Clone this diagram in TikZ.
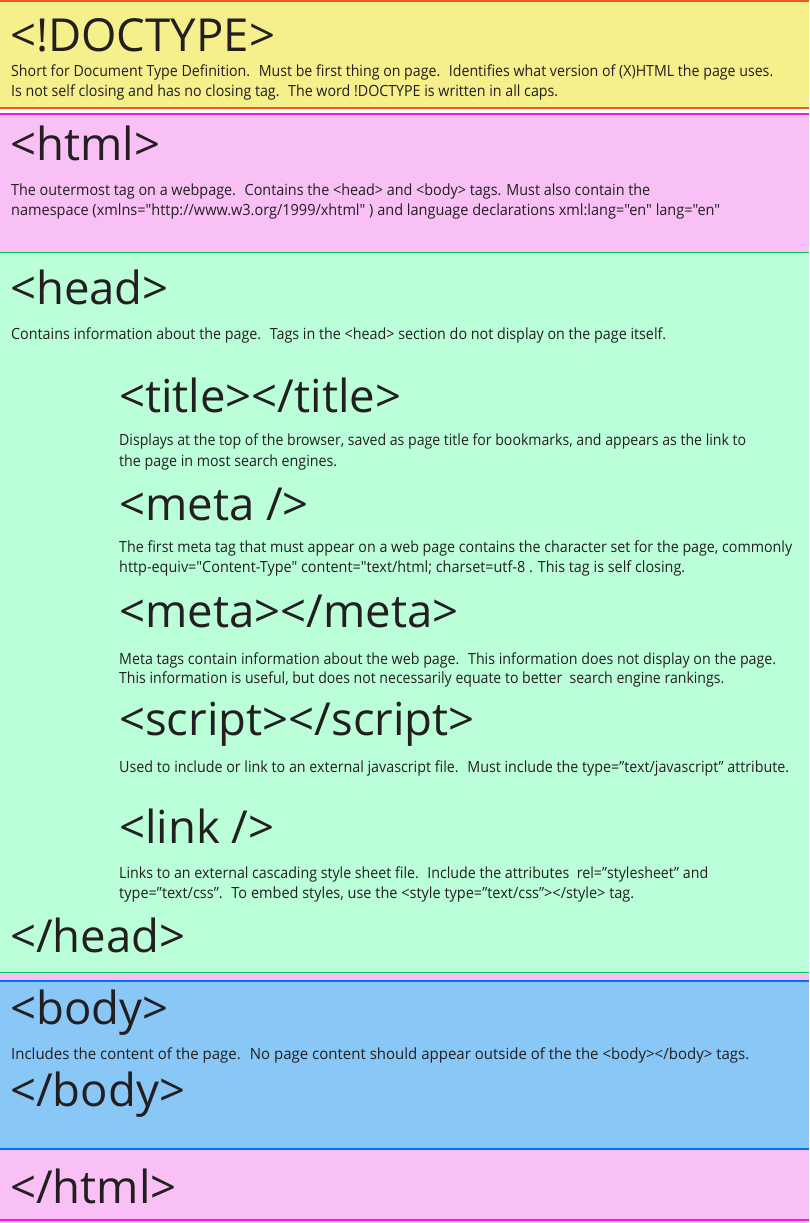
\documentclass[tikz,border=0pt]{standalone}
\usepackage{fontspec}
\usepackage{graphicx}
\newfontfamily\tagfont{Open Sans}
\newfontfamily\descfont[FakeStretch=0.93]{Open Sans}
% set a description line to a given width, keeping its height
\newcommand\fitline[2]{\resizebox{#1pt}{\height}{#2}}
\definecolor{yellowbg}{RGB}{245,239,140}
\definecolor{orangeline}{RGB}{241,90,36}
\definecolor{pinkbg}{RGB}{249,192,245}
\definecolor{magline}{RGB}{232,30,230}
\definecolor{greenbg}{RGB}{187,255,217}
\definecolor{greenline}{RGB}{0,200,80}
\definecolor{bluebg}{RGB}{137,199,247}
\definecolor{blueline}{RGB}{0,112,240}
\definecolor{ink}{RGB}{35,31,32}
\begin{document}
\begin{tikzpicture}[x=1pt,y=-1pt,
  heading/.style={anchor=base west,inner sep=0pt,text=ink,
    font=\tagfont\fontsize{45.5}{50}\selectfont},
  desc/.style={anchor=base west,inner sep=0pt,text=ink,
    font=\descfont\fontsize{15.4}{19}\selectfont}]
\useasboundingbox (0,0) rectangle (809,1223);
% section bands
\fill[yellowbg] (0,0) rectangle (809,108.5);
\fill[pinkbg] (0,112.5) rectangle (809,252.5);
\fill[greenbg] (0,252.5) rectangle (809,973);
\fill[pinkbg] (0,973) rectangle (809,980);
\fill[bluebg] (0,980) rectangle (809,1149);
\fill[pinkbg] (0,1149) rectangle (809,1223);
% band edges
\draw[orangeline,line width=1.8pt] (0,0.9) -- (809,0.9);
\draw[orangeline,line width=1.8pt] (0,108) -- (809,108);
\draw[magline,line width=1.8pt] (0,114) -- (809,114);
\draw[greenline,line width=1.8pt] (0,252.5) -- (809,252.5);
\draw[greenline,line width=1.9pt] (0,972.5) -- (200,972.5);
\draw[greenline,line width=1.5pt] (200,972.7) -- (809,972.7);
\draw[blueline,line width=1.8pt] (0,981) -- (809,981);
\draw[blueline,line width=1.8pt] (0,1149) -- (809,1149);
\draw[magline,line width=1.8pt] (0,1220) -- (809,1220);

% <!DOCTYPE>
\node[heading] (doctype) at (10,52) {<!DOCTYPE>};
\node[desc] (doctype1) at (11,77) {\fitline{762}{Short for Document Type Definition.~ Must be first thing on page.~ Identifies what version of (X)HTML the page uses.}};
\node[desc] (doctype2) at (11,96.5) {\fitline{547}{Is not self closing and has no closing tag.~ The word !DOCTYPE is written in all caps.}};

% <html>
\node[heading] (html) at (10,160) {<html>};
\node[desc] (html1) at (11,195) {\fitline{639}{The outermost tag on a webpage.~ Contains the <head> and <body> tags. Must also contain the}};
\node[desc] (html2) at (11,215) {\fitline{709}{namespace (xmlns="http://www.w3.org/1999/xhtml" ) and language declarations xml:lang="en" lang="en"}};

% <head>
\node[heading] (head) at (10,304) {<head>};
\node[desc] (head1) at (11,339) {\fitline{655}{Contains information about the page.~ Tags in the <head> section do not display on the page itself.}};

\node[heading] (title) at (119,412) {<title></title>};
\node[desc] (title1) at (119,445) {\fitline{627}{Displays at the top of the browser, saved as page title for bookmarks, and appears as the link to}};
\node[desc] (title2) at (119,466) {\fitline{218}{the page in most search engines.}};

\node[heading] (metaself) at (119,520) {<meta />};
\node[desc] (metaself1) at (119,552) {\fitline{673}{The first meta tag that must appear on a web page contains the character set for the page, commonly}};
\node[desc] (metaself2) at (119,572) {\fitline{566}{http-equiv="Content-Type" content="text/html; charset=utf-8 . This tag is self closing.}};

\node[heading] (meta) at (119,627) {<meta></meta>};
\node[desc] (meta1) at (119,664) {\fitline{657}{Meta tags contain information about the web page.~ This information does not display on the page.}};
\node[desc] (meta2) at (119,683) {\fitline{605}{This information is useful, but does not necessarily equate to better~ search engine rankings.}};

\node[heading] (script) at (119,735) {<script></script>};
\node[desc] (script1) at (119,772) {\fitline{670}{Used to include or link to an external javascript file.~ Must include the type=”text/javascript” attribute.}};

\node[heading] (link) at (119,843) {<link />};
\node[desc] (link1) at (119,878) {\fitline{589}{Links to an external cascading style sheet file.~ Include the attributes~ rel=”stylesheet” and}};
\node[desc] (link2) at (119,898) {\fitline{515}{type=”text/css”.~ To embed styles, use the <style type=”text/css”></style> tag.}};

\node[heading] (headend) at (10,952) {</head>};

% <body>
\node[heading] (body) at (10,1024) {<body>};
\node[desc] (body1) at (11,1059) {\fitline{738}{Includes the content of the page.~ No page content should appear outside of the the <body></body> tags.}};
\node[heading] (bodyend) at (10,1106) {</body>};

% </html>
\node[heading] (htmlend) at (10,1203) {</html>};
\end{tikzpicture}
\end{document}
